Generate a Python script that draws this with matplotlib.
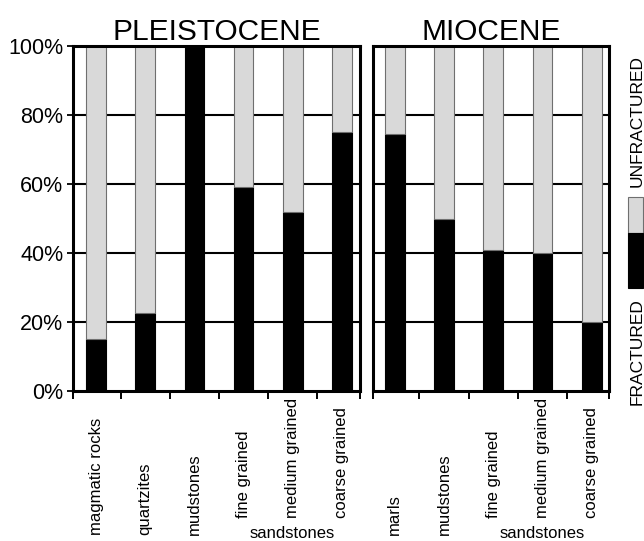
import matplotlib
matplotlib.use("Agg")
import matplotlib.pyplot as plt
from matplotlib.patches import Rectangle
import matplotlib.transforms as mtransforms

plt.rcParams['font.family'] = ['Liberation Sans', 'DejaVu Sans']

# ---- data ----
pleist_categories = ["magmatic rocks", "quartzites", "mudstones",
                     "fine grained", "medium grained", "coarse grained"]
pleist_fractured = [15, 22.5, 100, 59, 52, 75]

mio_categories = ["marls", "mudstones", "fine grained", "medium grained", "coarse grained"]
mio_fractured = [74.5, 50, 41, 40, 20]

yticks = [0, 20, 40, 60, 80, 100]
ytick_labels = ["0%", "20%", "40%", "60%", "80%", "100%"]
titles = ["PLEISTOCENE", "MIOCENE"]
legend_labels = ["FRACTURED", "UNFRACTURED"]
group_label = "sandstones"
n_group = 3  # last three categories are sandstones

BLACK = "#000000"
GRAY = "#d9d9d9"
EDGE = "#6f6f6f"

W, H = 644, 541
fig = plt.figure(figsize=(W / 100, H / 100), dpi=100)

def fx(px):
    return px / W

def fy(py):
    return 1 - py / H

ax_top, ax_bot = 46, 391
axL = fig.add_axes([fx(73), fy(ax_bot), fx(360 - 73), (ax_bot - ax_top) / H])
axR = fig.add_axes([fx(373), fy(ax_bot), fx(609 - 373), (ax_bot - ax_top) / H])

def ypix_to_axes(py):
    return (ax_bot - py) / (ax_bot - ax_top)

def draw_panel(ax, cats, frac, xlim, title, show_y):
    n = len(cats)
    xs = list(range(n))
    unfrac = [100 - v for v in frac]
    for yv in yticks[1:-1]:
        ax.axhline(yv, color="black", lw=1.5, zorder=1)
    ax.bar(xs, frac, width=0.40, color=BLACK, edgecolor=BLACK, lw=0.8, zorder=2)
    ax.bar(xs, unfrac, bottom=frac, width=0.40, color=GRAY, edgecolor=EDGE, lw=0.8, zorder=2)
    ax.set_xlim(*xlim)
    ax.set_ylim(0, 100)
    ticks = [xlim[0]] + [i + 0.5 for i in range(n - 1)] + [xlim[1]]
    ax.set_xticks(ticks)
    ax.set_xticklabels([])
    ax.tick_params(axis="x", direction="out", length=6, width=1.4, color="black")
    if show_y:
        ax.set_yticks(yticks)
        ax.set_yticklabels(ytick_labels, fontsize=15.5)
        ax.tick_params(axis="y", direction="out", length=4.5, width=1.3, pad=2.5)
    else:
        ax.set_yticks([])
    for s in ax.spines.values():
        s.set_linewidth(2.2)
        s.set_color("black")
    ax.set_title(title, fontsize=21.5, pad=4)
    trans = mtransforms.blended_transform_factory(ax.transData, ax.transAxes)
    for i, (x, c) in enumerate(zip(xs, cats)):
        in_group = i >= n - n_group
        yb = ypix_to_axes(518 if in_group else 535)
        ax.text(x, yb, c, rotation=90, ha="center", va="bottom",
                fontsize=12, transform=trans)
    gx = (xs[-n_group] + xs[-1]) / 2
    ax.text(gx, ypix_to_axes(533), group_label, ha="center", va="center",
            fontsize=12, transform=trans)

draw_panel(axL, pleist_categories, pleist_fractured, (-0.47, 5.37), titles[0], True)
draw_panel(axR, mio_categories, mio_fractured, (-0.44, 4.35), titles[1], False)

# ---- legend (rotated, right side) ----
lx0, lx1 = 628, 643
g_top, g_mid, g_bot = 197, 233, 288
fig.patches.append(Rectangle((fx(lx0), fy(g_mid)), fx(lx1 - lx0), (g_mid - g_top) / H,
                             transform=fig.transFigure, facecolor=GRAY,
                             edgecolor=EDGE, lw=0.8))
fig.patches.append(Rectangle((fx(lx0), fy(g_bot)), fx(lx1 - lx0), (g_bot - g_mid) / H,
                             transform=fig.transFigure, facecolor=BLACK,
                             edgecolor=BLACK, lw=0.8))
fig.text(fx(637), fy(g_top - 10), legend_labels[1], rotation=90, ha="center", va="bottom",
         fontsize=12.5)
fig.text(fx(637), fy(g_bot + 10), legend_labels[0], rotation=90, ha="center", va="top",
         fontsize=12.5)

fig.savefig("out.png", dpi=100)
